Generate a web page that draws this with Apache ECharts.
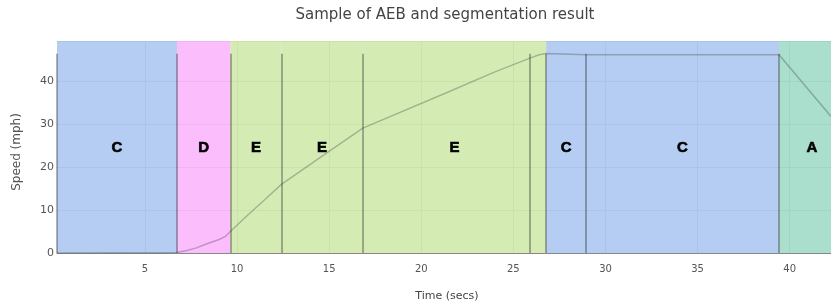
<!DOCTYPE html>
<html>
<head>
<meta charset="utf-8">
<script src="https://cdn.jsdelivr.net/npm/echarts@6/dist/echarts.min.js"></script>
<style>
  html, body { margin: 0; padding: 0; background: #fff; }
  #chart { width: 831px; height: 308px; }
</style>
</head>
<body>
<div id="chart"></div>
<script>
// speed trace
const timeS = [0.23, 6.74, 7.2, 7.8, 8.4, 9.0, 9.35, 9.64, 10.5, 11.5, 12.41, 14.6, 16.83, 21.4, 24.0, 25.9, 26.4, 26.78, 28.94, 39.42, 42.24];
const speedMph = [0, 0.1, 0.5, 1.2, 2.2, 3.1, 3.8, 5.0, 8.5, 12.4, 16.0, 22.5, 29.1, 37.4, 42.2, 45.4, 46.2, 46.5, 46.2, 46.2, 31.8];

// segmentation
const segStart = [0.23, 6.74, 9.64, 12.41, 16.83, 26.78, 28.94, 39.42];
const segEnd = [6.74, 9.64, 12.41, 16.83, 26.78, 28.94, 39.42, 43.0];
const segLabel = ['C', 'D', 'E', 'E', 'E', 'C', 'C', 'A'];
const boundaryLines = [0.23, 6.74, 9.64, 12.41, 16.83, 25.9, 26.78, 28.94, 39.42];
const lineTop = 46.4;
const labelY = 24.4;

const xTicks = [5, 10, 15, 20, 25, 30, 35, 40];
const xMin = 0.23, xMax = 42.24;
const yMax = 49.4;

// band colours (drawn at 0.6 opacity so the grid shows through)
const segColor = {
  C: 'rgb(132,172,235)',
  D: 'rgb(248,145,248)',
  E: 'rgb(183,223,130)',
  A: 'rgb(112,202,170)'
};

const chart = echarts.init(document.getElementById('chart'));

const bands = segStart.map((s, i) => [
  { xAxis: s, itemStyle: { color: segColor[segLabel[i]], opacity: 0.6 } },
  { xAxis: Math.min(segEnd[i], xMax) }
]);

const labelPts = segStart.map((s, i) => [(s + segEnd[i]) / 2, labelY]);

chart.setOption({
  animation: false,
  textStyle: { fontFamily: 'DejaVu Sans' },
  title: {
    text: 'Sample of AEB and segmentation result',
    left: 440,
    top: 3,
    textAlign: 'center',
    textStyle: { fontSize: 15, fontWeight: 'normal', color: '#444', fontFamily: 'DejaVu Sans' }
  },
  grid: { left: 57, right: 0, top: 41, bottom: 55 },
  xAxis: {
    type: 'value',
    min: xMin,
    max: xMax,
    name: 'Time (secs)',
    nameLocation: 'middle',
    nameGap: 38,
    nameTextStyle: { fontSize: 11, color: '#444', padding: [0, 0, 0, 6] },
    axisLine: { show: true, lineStyle: { color: '#888', width: 1 } },
    axisTick: { show: false, customValues: xTicks },
    axisLabel: { customValues: xTicks, fontSize: 10, color: '#555', margin: 11 },
    splitLine: { show: true, lineStyle: { color: '#e6e6e6', width: 1 } }
  },
  yAxis: {
    type: 'value',
    min: 0,
    max: yMax,
    interval: 10,
    name: 'Speed (mph)',
    nameLocation: 'middle',
    nameGap: 34,
    nameTextStyle: { fontSize: 12, color: '#555', padding: [0, 10, 0, 0] },
    axisLine: { show: false },
    axisTick: { show: false },
    axisLabel: { fontSize: 11, color: '#555', margin: 3, showMaxLabel: false },
    splitLine: { show: true, lineStyle: { color: '#e6e6e6', width: 1 } }
  },
  series: [
    {
      name: 'speed',
      type: 'line',
      data: timeS.map((t, i) => [t, speedMph[i]]),
      symbol: 'none',
      clip: true,
      lineStyle: { color: 'rgba(60,60,60,0.32)', width: 1.5 },
      markArea: { silent: true, data: bands },
      markLine: {
        silent: true,
        symbol: ['none', 'none'],
        label: { show: false },
        lineStyle: { color: 'rgba(30,30,30,0.45)', width: 1.5, type: 'solid' },
        data: boundaryLines.map(x => [{ coord: [x, 0] }, { coord: [x, lineTop] }])
      }
    },
    {
      name: 'labels',
      type: 'scatter',
      data: labelPts,
      symbolSize: 0,
      silent: true,
      itemStyle: { opacity: 1 },
      label: {
        show: true,
        position: 'inside',
        formatter: p => segLabel[p.dataIndex],
        fontSize: 15,
        fontWeight: 'bold',
        color: '#000',
        opacity: 1,
        textBorderColor: '#000',
        textBorderWidth: 0.6,
        fontFamily: 'Liberation Sans'
      }
    }
  ]
});
</script>
</body>
</html>
